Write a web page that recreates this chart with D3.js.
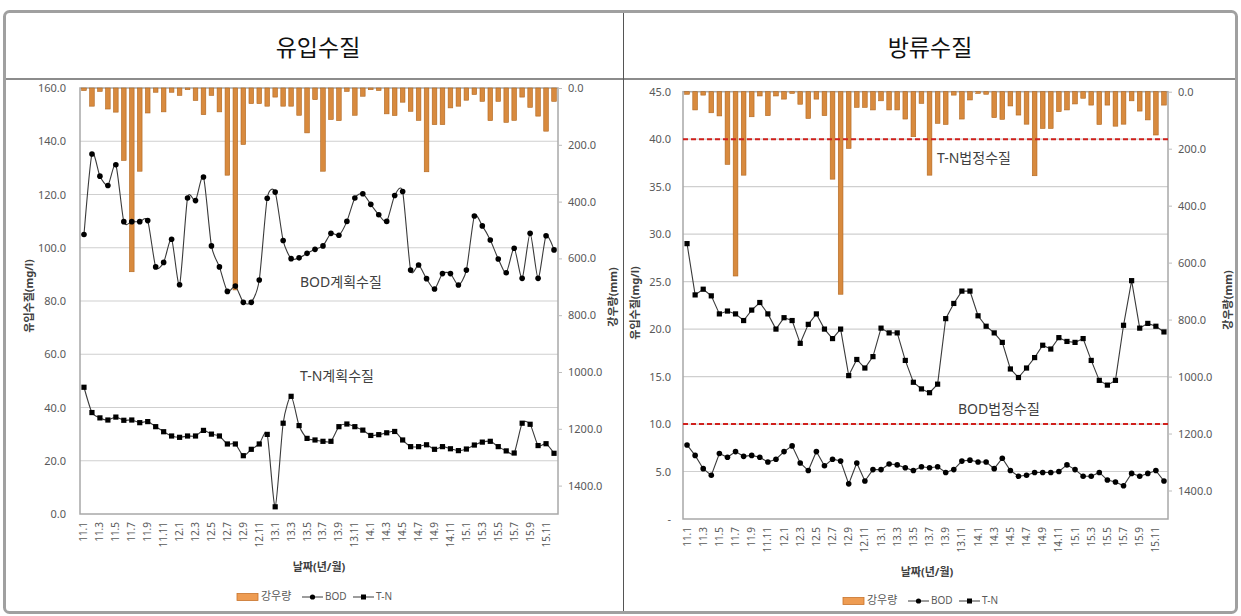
<!DOCTYPE html>
<html>
<head>
<meta charset="utf-8">
<script src="https://cdn.jsdelivr.net/npm/d3@7"></script>
<style>
  body { margin: 0; background: #fff; }
  text { font-family: "Noto Sans", "Noto Sans CJK KR", sans-serif; }
</style>
</head>
<body>
<svg id="chart" width="1241" height="616"></svg>
<script>
// Monthly categories, Jan 2011 – Dec 2015 (year.month)
const categories = [
  "11.1","11.2","11.3","11.4","11.5","11.6","11.7","11.8","11.9","11.10","11.11","11.12",
  "12.1","12.2","12.3","12.4","12.5","12.6","12.7","12.8","12.9","12.10","12.11","12.12",
  "13.1","13.2","13.3","13.4","13.5","13.6","13.7","13.8","13.9","13.10","13.11","13.12",
  "14.1","14.2","14.3","14.4","14.5","14.6","14.7","14.8","14.9","14.10","14.11","14.12",
  "15.1","15.2","15.3","15.4","15.5","15.6","15.7","15.8","15.9","15.10","15.11","15.12"
];

// Monthly rainfall (mm)
const rainfall = [
  9, 64, 12, 74, 85, 255, 647, 293, 88, 15, 84, 15,
  26, 6, 44, 94, 26, 84, 307, 711, 199, 55, 55, 64,
  32, 64, 64, 96, 158, 41, 293, 111, 115, 12, 96, 29,
  6, 9, 91, 97, 50, 82, 114, 295, 129, 129, 70, 64,
  43, 23, 47, 115, 47, 121, 114, 32, 68, 99, 152, 47
];

// Influent quality (mg/l)
const inflowBOD = [
  105.0, 135.2, 126.9, 123.4, 131.2, 109.8, 109.8, 109.8, 110.2, 92.8, 94.5, 103.2,
  86.1, 118.7, 117.7, 126.6, 100.7, 92.8, 83.6, 85.6, 79.5, 79.5, 87.9, 118.6,
  120.9, 102.7, 95.9, 96.2, 97.9, 99.4, 100.7, 105.4, 104.7, 109.9, 118.7, 120.3,
  116.3, 112.4, 109.9, 119.6, 121.1, 91.6, 93.5, 88.4, 84.5, 90.3, 90.3, 86.0,
  91.6, 111.9, 108.2, 102.9, 95.8, 90.6, 99.8, 88.5, 105.4, 88.5, 104.5, 99.2
];
const inflowTN = [
  47.6, 38.1, 36.1, 35.3, 36.4, 35.2, 35.3, 34.3, 34.7, 32.8, 30.9, 29.3,
  28.8, 29.3, 29.3, 31.4, 30.0, 29.3, 26.3, 26.3, 21.9, 24.3, 26.3, 29.9,
  2.7, 34.1, 44.2, 33.2, 28.4, 27.8, 27.3, 27.3, 32.8, 33.8, 32.8, 31.5,
  29.5, 29.8, 30.5, 31.0, 27.8, 25.3, 25.3, 26.0, 24.3, 25.3, 24.5, 23.8,
  24.4, 25.9, 27.0, 27.3, 25.3, 23.7, 22.9, 34.1, 33.7, 25.7, 26.4, 22.8
];

// Effluent quality (mg/l)
const effluentTN = [
  29.0, 23.6, 24.2, 23.5, 21.6, 21.9, 21.6, 20.9, 22.0, 22.8, 21.6, 20.0,
  21.2, 20.9, 18.5, 20.5, 21.6, 20.0, 19.0, 20.0, 15.1, 16.8, 15.9, 17.1,
  20.1, 19.6, 19.6, 16.7, 14.4, 13.7, 13.3, 14.2, 21.1, 22.7, 24.0, 24.0,
  21.4, 20.3, 19.6, 18.6, 15.8, 14.9, 15.9, 17.0, 18.3, 17.9, 19.1, 18.7,
  18.6, 19.0, 16.7, 14.6, 14.1, 14.6, 20.4, 25.1, 20.1, 20.6, 20.3, 19.7
];
const effluentBOD = [
  7.8, 6.7, 5.3, 4.6, 6.9, 6.5, 7.1, 6.6, 6.7, 6.5, 6.0, 6.3,
  7.1, 7.7, 5.9, 5.1, 7.1, 5.6, 6.3, 6.1, 3.7, 5.9, 4.0, 5.2,
  5.2, 5.8, 5.7, 5.4, 5.1, 5.5, 5.4, 5.5, 4.9, 5.2, 6.1, 6.2,
  6.0, 6.0, 5.3, 6.4, 5.1, 4.5, 4.6, 4.9, 4.9, 4.9, 5.0, 5.7,
  5.2, 4.5, 4.5, 4.9, 4.1, 3.9, 3.5, 4.8, 4.5, 4.8, 5.1, 4.0
];

// Legal effluent standards (mg/l)
const limitNames = ["T-N법정수질", "BOD법정수질"];
const limitValues = [40, 10];

// Planned influent quality notes
const planNames = ["BOD계획수질", "T-N계획수질"];

// Axis ticks
const inflowTicks = [0, 20, 40, 60, 80, 100, 120, 140, 160];
const effluentTicks = [0, 5, 10, 15, 20, 25, 30, 35, 40, 45];
const rainTicks = [0, 200, 400, 600, 800, 1000, 1200, 1400];
const rainMax = 1500;

const panelTitles = ["유입수질", "방류수질"];
const legendNames = ["강우량", "BOD", "T-N"];
const yTitle = "유입수질(mg/l)";
const rTitle = "강우량(mm)";
const xTitle = "날짜(년/월)";

const svg = d3.select("#chart");
const TXT = "#595959";
const LINE = "#3a3a3a";
const BAR = "#D88A3E";
const BAR_EDGE = "#B0661F";

// ---- table frame ----
svg.append("rect").attr("x", 4.5).attr("y", 11.5).attr("width", 1232).attr("height", 601)
  .attr("rx", 5).attr("fill", "#fff").attr("stroke", "#a0a0a0").attr("stroke-width", 3);
svg.append("line").attr("x1", 6).attr("x2", 1235).attr("y1", 79).attr("y2", 79)
  .attr("stroke", "#8c8c8c").attr("stroke-width", 2);
svg.append("line").attr("x1", 623.5).attr("x2", 623.5).attr("y1", 13).attr("y2", 611)
  .attr("stroke", "#555").attr("stroke-width", 1);

[318, 930].forEach((cx, i) => {
  svg.append("text").attr("x", cx).attr("y", 50)
    .attr("text-anchor", "middle").attr("dominant-baseline", "middle")
    .style("font-family", '"Noto Sans CJK KR", sans-serif')
    .style("font-size", "23px").attr("fill", "#111")
    .text(panelTitles[i]);
});

// ---- panels ----
const panels = [
  {
    plot: { l: 80, r: 558, t: 88, b: 514 },
    yMax: 160, ticks: inflowTicks, zeroDash: false,
    series: [{ values: inflowBOD, marker: "circle" }, { values: inflowTN, marker: "square" }],
    curve: d3.curveCardinal.tension(0.3),
    notes: [{ text: planNames[0], x: 300, y: 283 }, { text: planNames[1], x: 300, y: 377 }],
    limits: [],
    yLabelPad: 14, yTitleX: 30, yTitleY: 296, rTitleX: 614, rTitleY: 297,
    xTitleX: 319, xTitleY: 568, legendX: 237, legendY: 597
  },
  {
    plot: { l: 683, r: 1168, t: 91.7, b: 519 },
    yMax: 45, ticks: effluentTicks, zeroDash: true,
    series: [{ values: effluentTN, marker: "square" }, { values: effluentBOD, marker: "circle" }],
    curve: d3.curveLinear,
    notes: [{ text: limitNames[0], x: 937, y: 159 }, { text: limitNames[1], x: 958, y: 410 }],
    limits: limitValues,
    yLabelPad: 12, yTitleX: 636, yTitleY: 303, rTitleX: 1229, rTitleY: 300,
    xTitleX: 927, xTitleY: 573, legendX: 843, legendY: 601
  }
];

function drawMarker(g, shape, cx, cy) {
  if (shape === "circle") {
    g.append("circle").attr("cx", cx).attr("cy", cy).attr("r", 2.8).attr("fill", "#000");
  } else {
    g.append("rect").attr("x", cx - 2.6).attr("y", cy - 2.6)
      .attr("width", 5.2).attr("height", 5.2).attr("fill", "#000");
  }
}

panels.forEach(p => {
  const g = svg.append("g");
  const { l, r, t, b } = p.plot;

  const x = d3.scaleBand().domain(categories).range([l, r]).paddingInner(0.42).paddingOuter(0.21);
  const xc = d => x(d) + x.bandwidth() / 2;
  const y = d3.scaleLinear().domain([0, p.yMax]).range([b, t]);
  const yR = d3.scaleLinear().domain([0, rainMax]).range([t, b]);

  // gridlines
  g.append("g").selectAll("line").data(p.ticks.filter(v => v > 0 && v < p.yMax)).join("line")
    .attr("x1", l).attr("x2", r).attr("y1", d => y(d)).attr("y2", d => y(d))
    .attr("stroke", "#cfcfcf").attr("stroke-width", 1.2);

  // plot frame
  g.append("rect").attr("x", l).attr("y", t).attr("width", r - l).attr("height", b - t)
    .attr("fill", "none").attr("stroke", "#a8a8a8").attr("stroke-width", 1.5);

  // rainfall bars hanging from the top
  g.append("g").selectAll("rect").data(rainfall).join("rect")
    .attr("x", (d, i) => x(categories[i]))
    .attr("y", yR(0))
    .attr("width", x.bandwidth())
    .attr("height", d => yR(d) - yR(0))
    .attr("fill", BAR).attr("stroke", BAR_EDGE).attr("stroke-width", 0.6);

  // legal limits
  p.limits.forEach(v => {
    g.append("line").attr("x1", l).attr("x2", r).attr("y1", y(v)).attr("y2", y(v))
      .attr("stroke", "#D0201C").attr("stroke-width", 2).attr("stroke-dasharray", "5,3");
  });

  // notes
  p.notes.forEach(n => {
    g.append("text").attr("x", n.x).attr("y", n.y).attr("dominant-baseline", "middle")
      .style("font-size", "14px").attr("fill", "#404040").text(n.text);
  });

  // quality series
  p.series.forEach(s => {
    const line = d3.line().x((d, i) => xc(categories[i])).y(d => y(d)).curve(p.curve);
    g.append("path").attr("d", line(s.values)).attr("fill", "none")
      .attr("stroke", LINE).attr("stroke-width", 1.1);
    const mg = g.append("g");
    s.values.forEach((v, i) => drawMarker(mg, s.marker, xc(categories[i]), y(v)));
  });

  // left axis
  const fmt = d3.format(".1f");
  const ax = d3.axisLeft(y).tickValues(p.ticks).tickSize(0).tickPadding(p.yLabelPad)
    .tickFormat(d => (d === 0 && p.zeroDash) ? "-" : fmt(d));
  const axL = g.append("g").attr("transform", `translate(${l},0)`).call(ax);
  axL.select(".domain").remove();
  axL.selectAll("text").style("font-size", "11px").attr("fill", TXT);

  // right axis (rainfall, reversed)
  const axR = g.append("g").attr("transform", `translate(${r},0)`)
    .call(d3.axisRight(yR).tickValues(rainTicks).tickSize(4).tickPadding(6).tickFormat(fmt));
  axR.select(".domain").remove();
  axR.selectAll("line").attr("stroke", "#bdbdbd");
  axR.selectAll("text").style("font-size", "11px").attr("fill", TXT);

  // bottom axis: every other month
  const axB = g.append("g").attr("transform", `translate(0,${b})`)
    .call(d3.axisBottom(x).tickValues(categories.filter((d, i) => i % 2 === 0)).tickSize(0));
  axB.select(".domain").remove();
  axB.selectAll("text")
    .attr("transform", "rotate(-90)")
    .attr("x", -8).attr("y", 0).attr("dy", "0.35em")
    .style("text-anchor", "end").style("font-size", "10px").attr("fill", TXT);

  // axis titles
  g.append("text").attr("transform", `translate(${p.yTitleX},${p.yTitleY}) rotate(-90)`)
    .attr("text-anchor", "middle").attr("dominant-baseline", "middle")
    .style("font-size", "11px").style("font-weight", "bold").attr("fill", "#404040").text(yTitle);
  g.append("text").attr("transform", `translate(${p.rTitleX},${p.rTitleY}) rotate(-90)`)
    .attr("text-anchor", "middle").attr("dominant-baseline", "middle")
    .style("font-size", "11px").style("font-weight", "bold").attr("fill", "#404040").text(rTitle);
  g.append("text").attr("x", p.xTitleX).attr("y", p.xTitleY)
    .attr("text-anchor", "middle").attr("dominant-baseline", "middle")
    .style("font-size", "11px").style("font-weight", "bold").attr("fill", "#404040").text(xTitle);

  // legend
  const lg = g.append("g").attr("transform", `translate(${p.legendX},${p.legendY})`);
  lg.append("rect").attr("x", 0).attr("y", -3.5).attr("width", 21).attr("height", 7)
    .attr("fill", "#EE9C52").attr("stroke", "#C8742C").attr("stroke-width", 0.8);
  lg.append("text").attr("x", 24).attr("y", 0).attr("dominant-baseline", "middle")
    .style("font-size", "11px").attr("fill", TXT).text(legendNames[0]);
  [[65, "circle", legendNames[1]], [116, "square", legendNames[2]]].forEach(([dx, shape, name]) => {
    lg.append("line").attr("x1", dx).attr("x2", dx + 21).attr("y1", 0).attr("y2", 0)
      .attr("stroke", LINE).attr("stroke-width", 1);
    if (shape === "circle") lg.append("circle").attr("cx", dx + 10.5).attr("cy", 0).attr("r", 2.6).attr("fill", "#000");
    else lg.append("rect").attr("x", dx + 8).attr("y", -2.5).attr("width", 5).attr("height", 5).attr("fill", "#000");
    lg.append("text").attr("x", dx + 23).attr("y", 0).attr("dominant-baseline", "middle")
      .style("font-size", "10px").attr("fill", TXT).text(name);
  });
});
</script>
</body>
</html>
